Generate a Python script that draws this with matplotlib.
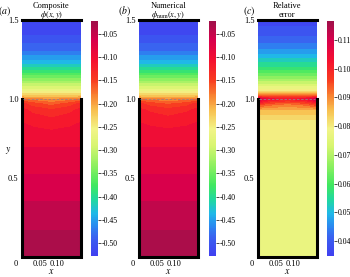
import numpy as np
import matplotlib
matplotlib.use('Agg')
import matplotlib.pyplot as plt
import matplotlib.transforms as mtransforms
from matplotlib.colors import LinearSegmentedColormap, Normalize
from matplotlib.cm import ScalarMappable

plt.rcParams['font.family'] = ['Liberation Serif', 'DejaVu Serif']
plt.rcParams['mathtext.fontset'] = 'stix'

# grid (columns: wall, near wall, centre, near wall, wall)
x_cols = [0.0, 0.03, 0.083, 0.136, 0.166]
y_rows = [0.0, 0.1, 0.3, 0.5, 0.7, 0.85, 0.93, 0.97, 1.0, 1.02, 1.05, 1.1, 1.15, 1.2, 1.25, 1.3, 1.4, 1.5]

phi_comp = [
    [-0.026] * 5,
    [-0.033] * 5,
    [-0.050] * 5,
    [-0.070] * 5,
    [-0.090] * 5,
    [-0.106, -0.110, -0.114, -0.110, -0.106],
    [-0.118, -0.128, -0.138, -0.128, -0.118],
    [-0.135, -0.150, -0.165, -0.150, -0.135],
    [-0.175, -0.185, -0.195, -0.185, -0.175],
    [-0.225] * 5,
    [-0.26] * 5,
    [-0.31] * 5,
    [-0.36] * 5,
    [-0.41] * 5,
    [-0.445] * 5,
    [-0.475] * 5,
    [-0.51] * 5,
    [-0.525] * 5,
]

phi_num = [
    [-0.026] * 5,
    [-0.033] * 5,
    [-0.050] * 5,
    [-0.070] * 5,
    [-0.090] * 5,
    [-0.106, -0.109, -0.112, -0.109, -0.106],
    [-0.118, -0.126, -0.134, -0.126, -0.118],
    [-0.135, -0.148, -0.160, -0.148, -0.135],
    [-0.175, -0.184, -0.192, -0.184, -0.175],
    [-0.225] * 5,
    [-0.26] * 5,
    [-0.31] * 5,
    [-0.36] * 5,
    [-0.41] * 5,
    [-0.445] * 5,
    [-0.475] * 5,
    [-0.51] * 5,
    [-0.525] * 5,
]

rel_err = [
    [0.078] * 5,
    [0.078] * 5,
    [0.0778] * 5,
    [0.0775] * 5,
    [0.0778] * 5,
    [0.080] * 5,
    [0.086] * 5,
    [0.098, 0.094, 0.092, 0.094, 0.098],
    [0.110, 0.104, 0.101, 0.104, 0.110],
    [0.092] * 5,
    [0.081] * 5,
    [0.072] * 5,
    [0.064] * 5,
    [0.057] * 5,
    [0.052] * 5,
    [0.047] * 5,
    [0.040] * 5,
    [0.036] * 5,
]

fields = [phi_comp, phi_num, rel_err]
title_top = ['Composite', 'Numerical', 'Relative']
title_bottom = ['$\\phi(x, y)$', '$\\phi_{\\mathrm{num}}(x, y)$', 'error']
tags = ['$(a)$', '$(b)$', '$(c)$']
cbar_ranges = [(-0.528, -0.022), (-0.528, -0.022), (0.0348, 0.1166)]
cbar_ticks = [
    [-0.05, -0.10, -0.15, -0.20, -0.25, -0.30, -0.35, -0.40, -0.45, -0.50],
    [-0.05, -0.10, -0.15, -0.20, -0.25, -0.30, -0.35, -0.40, -0.45, -0.50],
    [0.04, 0.05, 0.06, 0.07, 0.08, 0.09, 0.10, 0.11],
]

cmap = LinearSegmentedColormap.from_list('rainbowish', [
    (0.0, '#4040f0'), (0.08, '#3a62f0'), (0.13, '#2a8cf0'), (0.18, '#20b8e8'),
    (0.238, '#20d8a0'), (0.30, '#40e860'), (0.387, '#90f060'), (0.47, '#d8f570'),
    (0.54, '#f2f488'), (0.62, '#f8c050'), (0.685, '#f88030'), (0.75, '#f83c20'),
    (0.834, '#f51030'), (0.92, '#d8004c'), (1.0, '#a0104a')])

fig = plt.figure(figsize=(3.5, 2.77), dpi=100)

ax_left = [22 / 350, 139 / 350, 258 / 350]
cb_left = [91 / 350, 209 / 350, 327 / 350]
tag_x = [5 / 350, 124 / 350, 249 / 350]

for i in range(3):
    lo, hi = cbar_ranges[i]
    norm = Normalize(lo, hi)
    ax = fig.add_axes([ax_left[i], 20 / 277, 58.5 / 350, 237 / 277])
    ax.contourf(x_cols, y_rows, np.array(fields[i]), levels=np.linspace(lo, hi, 31),
                cmap=cmap, norm=norm, extend='both')
    ax.set_xlim(0, 0.166)
    ax.set_ylim(0, 1.5)
    for s in ax.spines.values():
        s.set_visible(False)

    # walls and interface
    ax.plot([0, 0, 0.166, 0.166], [1.0, 0, 0, 1.0], color='black', lw=2.2, clip_on=False,
            solid_joinstyle='miter')
    ax.plot([0, 0.166], [1.5, 1.5], color='black', lw=2.2, clip_on=False)
    ax.plot([0.004, 0.162], [1.0, 1.0], color='#9a8080', lw=0.6, ls=(0, (3, 2)))

    ax.set_xticks([0, 0.05, 0.10])
    ax.set_xticklabels(['0', '0.05', '0.10'])
    ax.set_yticks([0.5, 1.0, 1.5])
    ax.set_yticklabels(['0.5', '1.0', '1.5'])
    ax.tick_params(length=0, labelsize=6, pad=2.5)
    lab0 = ax.get_xticklabels()[0]
    lab0.set_transform(lab0.get_transform() + mtransforms.ScaledTranslation(-6 / 100, 0, fig.dpi_scale_trans))
    ax.set_xlabel('$x$', fontsize=7, labelpad=-1)

    cx = ax_left[i] + 58.5 / 700
    fig.text(cx, 1 - 5.5 / 277, title_top[i], fontsize=6, ha='center', va='center')
    fig.text(cx, 1 - 15 / 277, title_bottom[i], fontsize=6, ha='center', va='center')
    fig.text(tag_x[i], 1 - 11 / 277, tags[i], fontsize=7, ha='center', va='center')

    cax = fig.add_axes([cb_left[i], 21 / 277, 7 / 350, 235 / 277])
    cb = fig.colorbar(ScalarMappable(norm=norm, cmap=cmap), cax=cax)
    cb.outline.set_visible(False)
    cb.set_ticks(cbar_ticks[i])
    cb.set_ticklabels(['%.2f' % t for t in cbar_ticks[i]])
    cb.ax.tick_params(length=2, width=0.5, labelsize=5.6, pad=1)

fig.text(8 / 350, 1 - 150 / 277, '$y$', fontsize=7, ha='center', va='center')

fig.savefig('out.png', dpi=100)
